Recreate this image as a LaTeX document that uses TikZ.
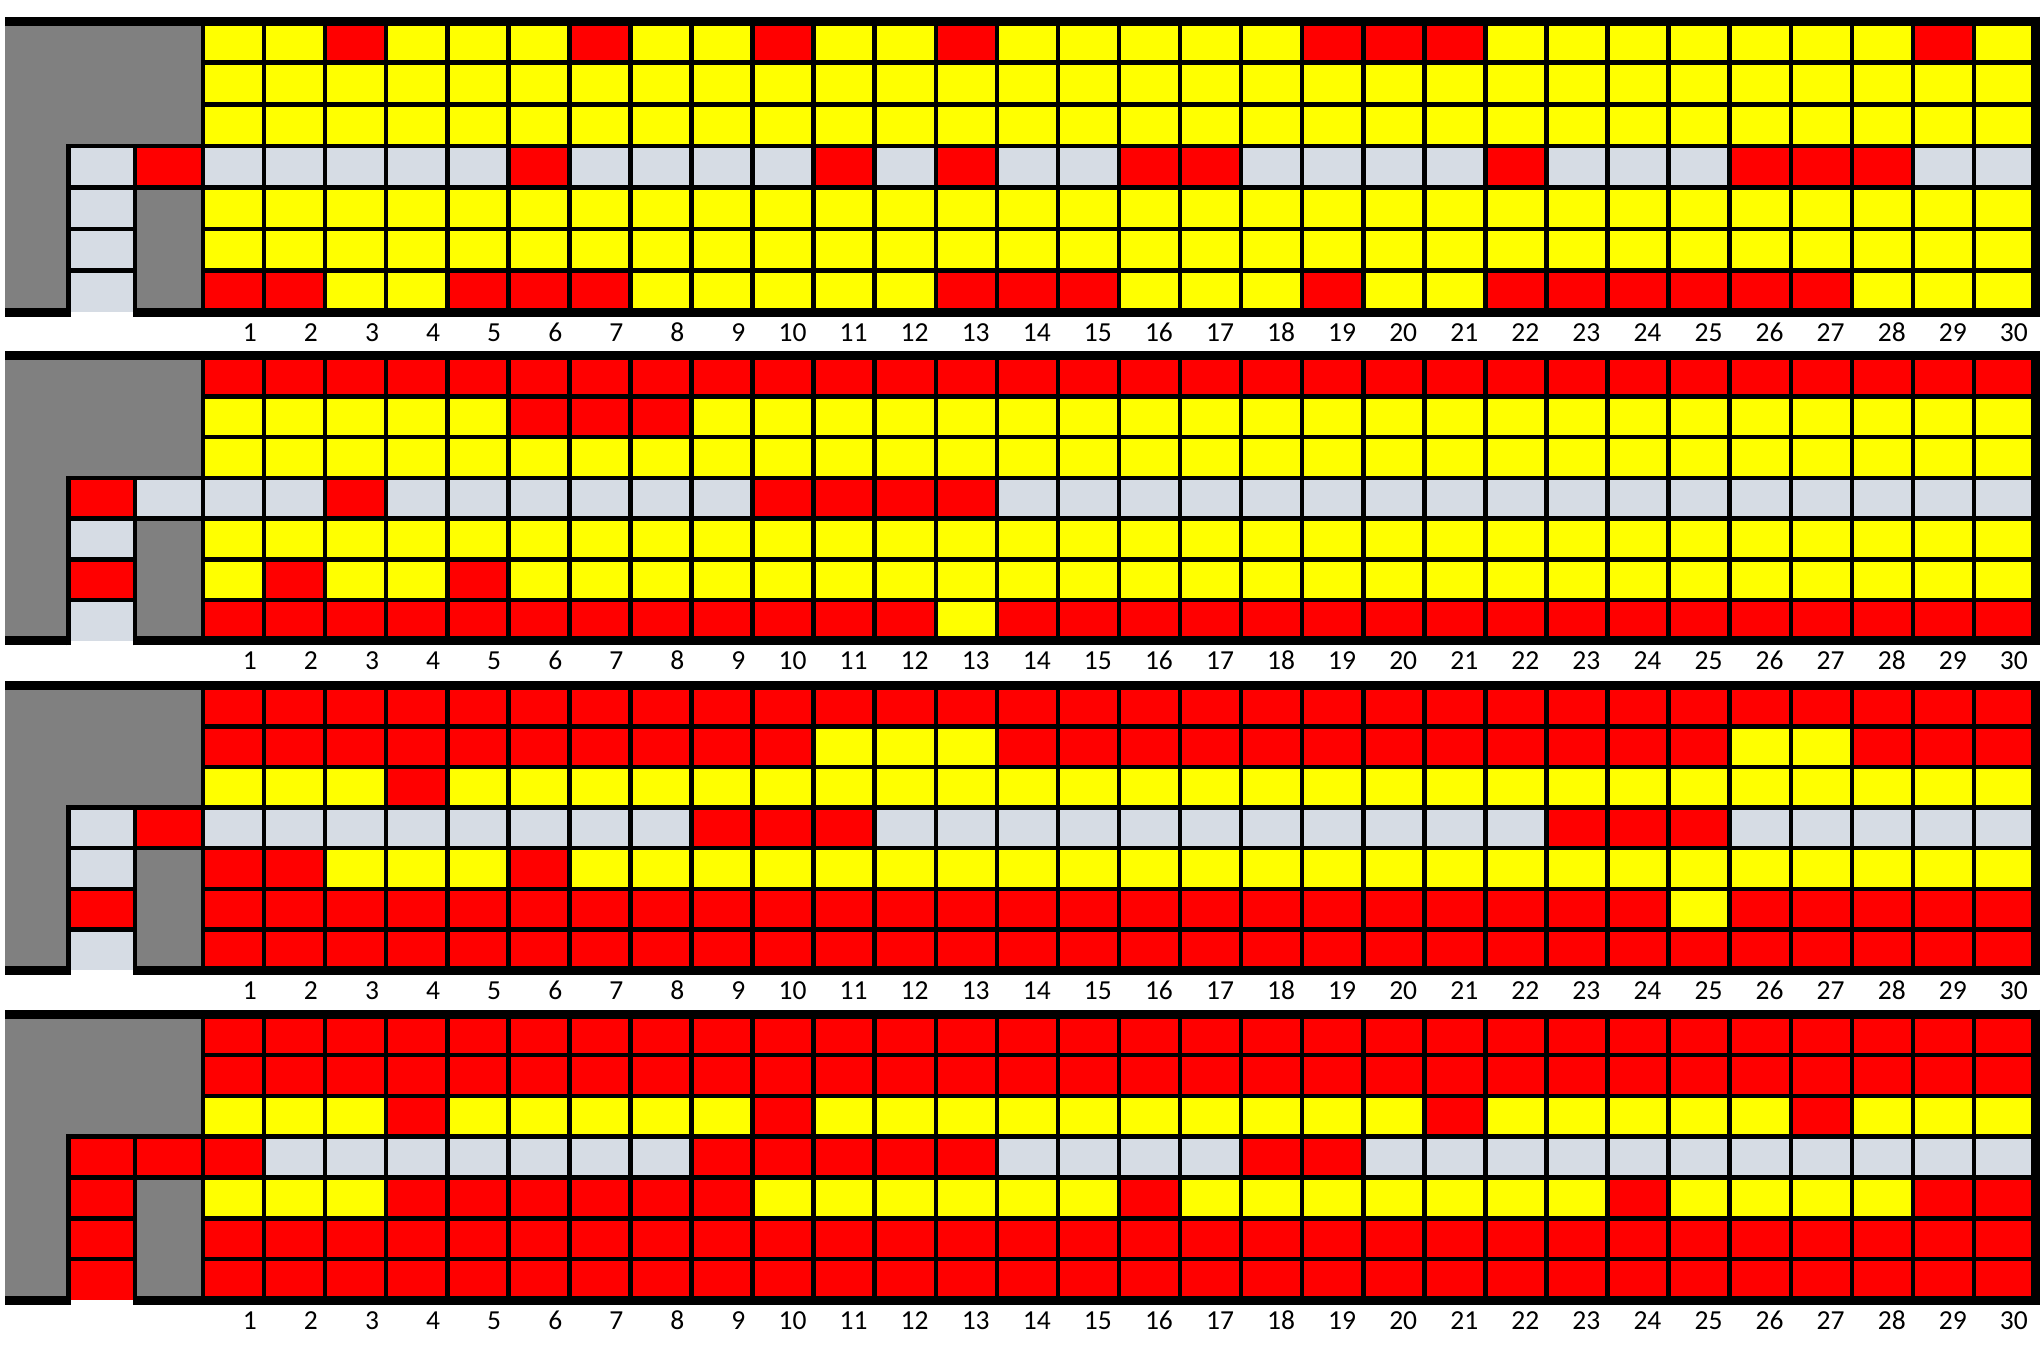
\documentclass[tikz,border=0pt]{standalone}
\usepackage{fontspec}
\setmainfont{Carlito}
\definecolor{cY}{HTML}{FFFF00}
\definecolor{cR}{HTML}{FF0000}
\definecolor{cD}{HTML}{808080}
\definecolor{cL}{HTML}{D6DCE4}
\tikzset{
  thinl/.style={draw=black,line width=4.5pt},
  thickl/.style={draw=black,line width=9pt},
  lbl/.style={anchor=base east,inner sep=0pt,font=\fontsize{27.5}{32}\selectfont}
}
\newcommand\cw{61.0667}
\newcommand\panel[2]{\def\pT{#1}\def\pB{#2}\pgfmathsetmacro\ph{(#2-#1)/7}}
\newcommand\prow[4]{%
  \fill[#2] (203,{\pT+(#1-1)*\ph}) rectangle (2035,{\pT+#1*\ph});
  \foreach \c in {#4}{\fill[#3] ({203+(\c-1)*\cw},{\pT+(#1-1)*\ph}) rectangle ({203+\c*\cw},{\pT+#1*\ph});}%
}
\newcommand\pframe[6]{%
  \fill[cD] (5,\pT) rectangle (203,\pB);
  \fill[#2] (135,{\pT+3*\ph}) rectangle (203,{\pT+4*\ph});
  \fill[#3] (68.3,{\pT+3*\ph}) rectangle (135,{\pT+4*\ph});
  \fill[#4] (68.3,{\pT+4*\ph}) rectangle (135,{\pT+5*\ph});
  \fill[#5] (68.3,{\pT+5*\ph}) rectangle (135,{\pT+6*\ph});
  \fill[#6] (68.3,{\pT+6*\ph}) rectangle (135,\pB);
  \foreach \k in {1,...,6}{\draw[thinl] (203,{\pT+\k*\ph}) -- (2035,{\pT+\k*\ph});}
  \foreach \j in {0,...,29}{\draw[thinl] ({203+\j*\cw},\pT) -- ({203+\j*\cw},\pB);}
  \draw[thinl] (68.3,{\pB+4.5}) -- (68.3,{\pT+3*\ph}) -- (203,{\pT+3*\ph});
  \draw[thinl] (135,{\pB+4.5}) -- (135,{\pT+3*\ph});
  \draw[thinl] (68.3,{\pT+4*\ph}) -- (203,{\pT+4*\ph});
  \foreach \k in {5,6}{\draw[thinl] (68.3,{\pT+\k*\ph}) -- (135,{\pT+\k*\ph});}
  \draw[thickl] (5,\pT) -- (2039.5,\pT);
  \draw[thickl] (2035,{\pT-4.5}) -- (2035,{\pB+4.5});
  \draw[thickl] (5,\pB) -- (70.5,\pB);
  \draw[thickl] (132.75,\pB) -- (2039.5,\pB);
  \foreach \j in {1,...,30}{\node[lbl] (p#1n\j) at ({203+\j*\cw-7},{\pB+29}) {\j};}
}
\begin{document}
\begin{tikzpicture}[x=1pt,y=-1pt]
\useasboundingbox (0,0) rectangle (2043,1345);
% panel 1
\panel{21.2}{312}
\prow{1}{cY}{cR}{3,7,10,13,19,20,21,29}
\prow{2}{cY}{cY}{1}
\prow{3}{cY}{cY}{1}
\prow{4}{cL}{cR}{6,11,13,16,17,22,26,27,28}
\prow{5}{cY}{cY}{1}
\prow{6}{cY}{cY}{1}
\prow{7}{cY}{cR}{1,2,5,6,7,13,14,15,19,22,23,24,25,26,27}
\pframe{a}{cR}{cL}{cL}{cL}{cL}
% panel 2
\panel{355.8}{640.8}
\prow{1}{cR}{cR}{1}
\prow{2}{cY}{cR}{6,7,8}
\prow{3}{cY}{cY}{1}
\prow{4}{cL}{cR}{3,10,11,12,13}
\prow{5}{cY}{cY}{1}
\prow{6}{cY}{cR}{2,5}
\prow{7}{cR}{cY}{13}
\pframe{b}{cL}{cR}{cL}{cR}{cL}
% panel 3
\panel{685.8}{970}
\prow{1}{cR}{cR}{1}
\prow{2}{cR}{cY}{11,12,13,26,27}
\prow{3}{cY}{cR}{4}
\prow{4}{cL}{cR}{9,10,11,23,24,25}
\prow{5}{cY}{cR}{1,2,6}
\prow{6}{cR}{cY}{25}
\prow{7}{cR}{cR}{1}
\pframe{c}{cR}{cL}{cL}{cR}{cL}
% panel 4
\panel{1014.2}{1300}
\prow{1}{cR}{cR}{1}
\prow{2}{cR}{cR}{1}
\prow{3}{cY}{cR}{4,10,21,27}
\prow{4}{cL}{cR}{1,9,10,11,12,13,18,19}
\prow{5}{cY}{cR}{4,5,6,7,8,9,16,24,29,30}
\prow{6}{cR}{cR}{1}
\prow{7}{cR}{cR}{1}
\pframe{d}{cR}{cR}{cR}{cR}{cR}
\end{tikzpicture}
\end{document}
